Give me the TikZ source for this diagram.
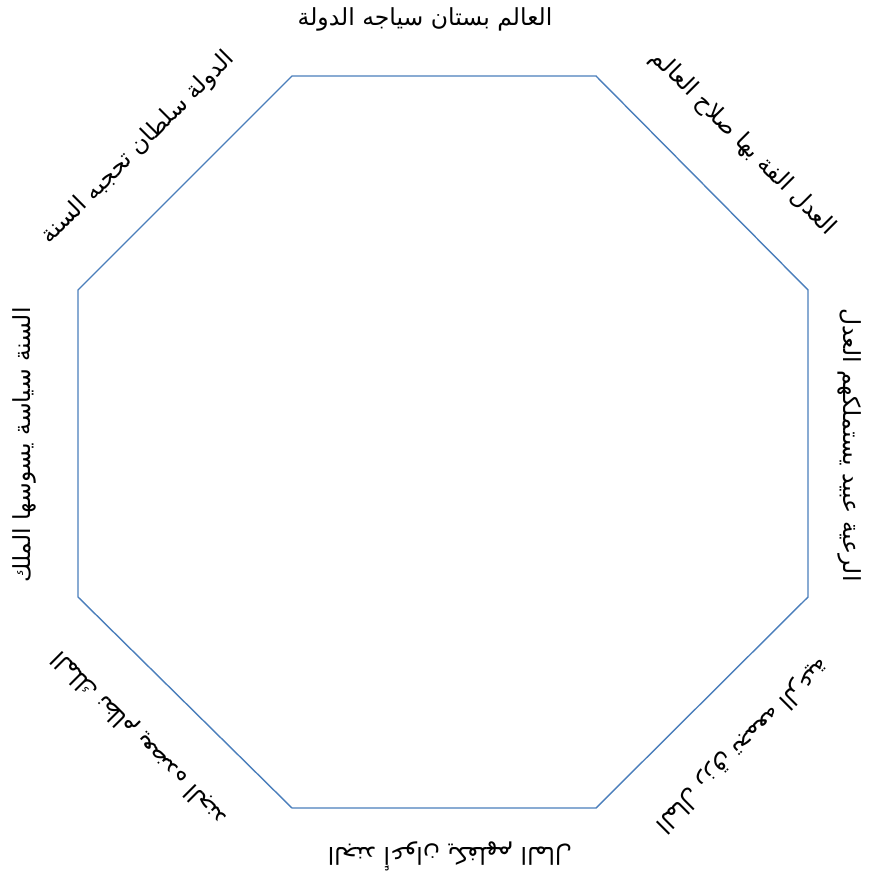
\documentclass[tikz,border=0pt]{standalone}
\usepackage{fontspec}
\usepackage{tikz}
\usetikzlibrary{positioning}
\TeXXeTstate=1
\newfontfamily\arabicfont[Script=Arabic]{DejaVu Sans}
\definecolor{octblue}{HTML}{4A7EBB}
\tikzset{
  octedge/.style={draw=octblue,line width=1.4pt,line join=miter},
  maxim/.style={font=\arabicfont\fontsize{23.5}{28}\selectfont,inner sep=0pt,text=black},
}
\newcommand{\rtl}[1]{\beginR #1\endR}

\begin{document}
\begin{tikzpicture}[x=1pt,y=-1pt]
  \useasboundingbox (0,0) rectangle (878,882);
  % the octagon
  \coordinate (n1) at (292,76);
  \coordinate (n2) at (596,76);
  \coordinate (n3) at (808,290);
  \coordinate (n4) at (808,597);
  \coordinate (n5) at (596,808);
  \coordinate (n6) at (292,808);
  \coordinate (n7) at (78,597);
  \coordinate (n8) at (78,290);
  \draw[octedge] (n1)--(n2)--(n3)--(n4)--(n5)--(n6)--(n7)--(n8)--cycle;
  % the eight sayings, one per side
  \node[maxim] (world) at (425,19) {\rtl{العالم بستان سياجه الدولة}};
  \node[maxim,rotate=-45] (justice) at (743,143) {\rtl{العدل الفة بها صلاح العالم}};
  \node[maxim,rotate=-90] (subjects) at (850,445) {\rtl{الرعية عبيد يستملكهم العدل}};
  \node[maxim,rotate=-135] (wealth) at (742,745) {\rtl{المال رزق تجمعه الرعية}};
  \node[maxim,rotate=180] (army) at (450,856) {\rtl{الجند أعوان يكفلهم المال}};
  \node[maxim,rotate=135] (king) at (140,738) {\rtl{الملك نظام يعضده الجند}};
  \node[maxim,rotate=90] (sunna) at (24,445) {\rtl{السنة سياسة يسوسها الملك}};
  \node[maxim,rotate=45] (state) at (138,148) {\rtl{الدولة سلطان تحجبه السنة}};
\end{tikzpicture}
\end{document}
